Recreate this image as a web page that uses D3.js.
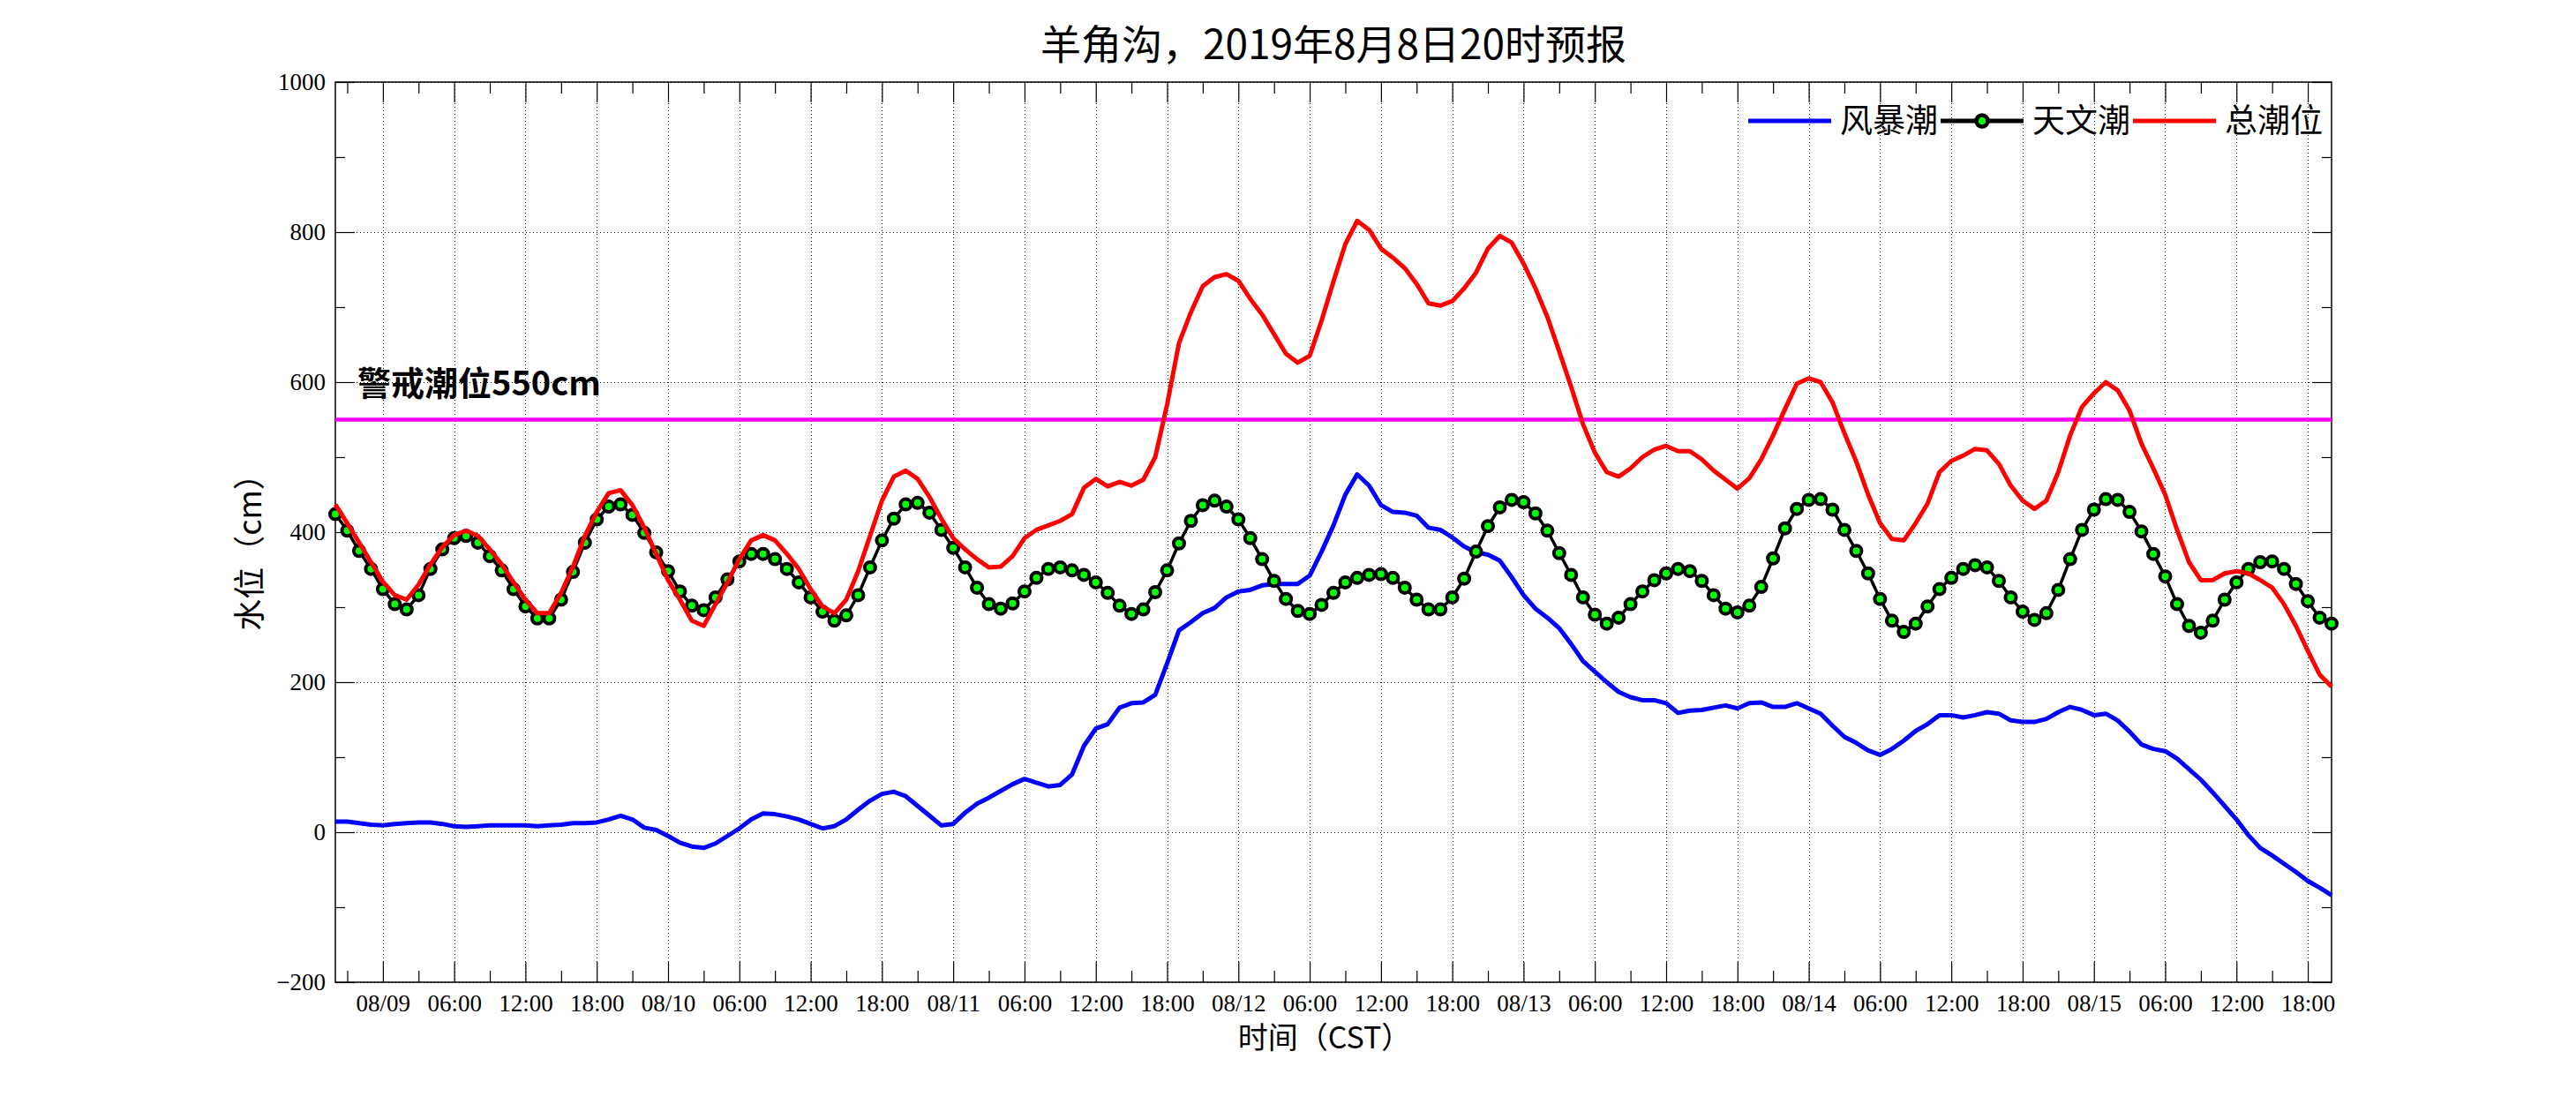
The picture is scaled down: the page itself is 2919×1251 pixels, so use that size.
<!DOCTYPE html>
<html><head><meta charset="utf-8">
<script src="https://cdn.jsdelivr.net/npm/d3@7"></script>
<style>body{margin:0;background:#fff}</style>
</head><body><svg id="chart" width="2919" height="1251"></svg>
<script>
// ---- data (hourly, starting 2019-08-08 20:00 CST) ----
const startTime = "2019-08-08T20:00:00Z";
const astro = [
424,402,375,351,324,304,297,316,351,377,392,395,
386,368,349,324,301,285,285,310,347,386,417,434,
437,423,399,373,348,321,302,296,313,337,361,371,
371,364,351,333,313,294,282,289,316,353,389,418,
437,439,426,403,379,353,326,304,298,305,321,339,
351,353,349,343,333,319,302,291,297,320,349,385,
415,436,442,434,417,392,364,335,311,295,291,303,
319,333,339,343,344,339,326,310,297,297,313,338,
374,408,433,443,440,425,402,372,343,313,290,278,
286,304,321,336,345,351,348,335,316,298,293,302,
327,365,405,431,443,444,430,403,375,345,311,282,
267,278,301,324,339,351,356,353,335,313,294,283,
292,323,364,403,430,444,443,427,401,371,341,304,
275,266,282,310,333,351,360,361,351,331,308,286,
278];
const surge = [
14,14,12,10,9,11,12,13,13,11,8,7,
8,9,9,9,9,8,9,10,12,12,13,17,
22,17,6,3,-5,-14,-19,-21,-15,-5,5,17,
25,24,21,17,11,5,8,17,30,42,51,54,
48,35,22,9,11,26,38,46,55,64,71,66,
61,63,77,115,138,144,166,172,173,183,225,269,
280,292,299,313,321,323,329,331,331,331,342,374,
409,450,477,462,436,427,426,422,406,403,393,381,
373,370,362,340,316,298,286,272,251,228,214,200,
187,180,176,176,172,159,162,163,166,169,165,172,
173,167,167,172,165,158,142,127,119,109,103,111,
122,135,144,156,156,153,156,160,158,149,147,147,
151,160,167,163,156,158,149,134,117,111,108,98,
84,70,53,35,17,-4,-21,-31,-42,-53,-65,-74,
-84];
const total = [
437,412,386,360,334,316,310,330,357,380,396,402,
395,377,357,333,310,292,292,319,354,395,427,452,
456,436,406,371,336,310,282,275,304,333,364,389,
396,389,371,351,324,301,292,310,348,395,442,474,
482,471,447,418,392,377,364,353,354,368,392,403,
409,415,424,459,471,461,467,462,470,500,570,652,
693,728,740,744,735,711,690,664,638,626,635,682,
734,784,815,803,778,766,752,731,705,702,708,725,
746,778,795,786,758,725,687,641,594,544,506,480,
474,485,500,510,515,508,508,497,482,470,458,472,
497,529,564,598,605,600,573,532,494,450,412,391,
389,412,438,480,495,502,511,509,491,462,442,431,
442,480,529,567,585,600,589,562,518,485,450,403,
360,336,336,345,348,345,336,326,304,275,242,210,
194];
const yTicks = [-200,0,200,400,600,800,1000];
const yMinorTicks = [-100,100,300,500,700,900];
const xTickLabels = [
"08/09","06:00","12:00","18:00","08/10","06:00","12:00","18:00",
"08/11","06:00","12:00","18:00","08/12","06:00","12:00","18:00",
"08/13","06:00","12:00","18:00","08/14","06:00","12:00","18:00",
"08/15","06:00","12:00","18:00"];
const seriesNames = ["风暴潮","天文潮","总潮位"];
const warnLevel = 550;
const warnText = "警戒潮位550cm";
const titleText = "羊角沟，2019年8月8日20时预报";
const xTitle = "时间（CST）";
const yTitle = "水位（cm）";

// ---- layout ----
const L = 380, R = 2642, T = 93, B = 1113;
const CJK = "'Noto Sans CJK SC','Noto Sans',sans-serif";
const SERIF = "'Liberation Serif','Times New Roman',serif";
const svg = d3.select("#chart");
svg.append("rect").attr("width",2919).attr("height",1251).attr("fill","#fff");

const t0 = new Date(startTime);
const t1 = d3.utcHour.offset(t0, astro.length - 1);
const times = astro.map((d,i) => d3.utcHour.offset(t0, i));
const x = d3.scaleUtc().domain([t0, t1]).range([L, R]);
const y = d3.scaleLinear().domain([-200, 1000]).range([B, T]);

const majorT = d3.utcHour.every(6).range(t0, t1);
const minorT = d3.utcHour.every(3).range(t0, t1).filter(d => d.getUTCHours() % 6 === 3);

// grid
const grid = svg.append("g").attr("stroke","#000").attr("stroke-width",1).attr("stroke-dasharray","1,3");
grid.selectAll(".h").data(yTicks).join("line")
  .attr("x1",L).attr("x2",R).attr("y1",d=>y(d)+0.5).attr("y2",d=>y(d)+0.5);
grid.selectAll(".v").data(majorT).join("line")
  .attr("x1",d=>Math.round(x(d))+0.5).attr("x2",d=>Math.round(x(d))+0.5).attr("y1",T).attr("y2",B);

function styleAxis(g){
  g.select(".domain").remove();
  g.attr("font-family", SERIF).attr("font-size", 27);
  g.selectAll(".tick line").attr("stroke","#000").attr("stroke-width",1.2);
}
// bottom
svg.append("g").attr("transform",`translate(0,${B})`)
  .call(d3.axisBottom(x).tickValues(majorT).tickSize(-23).tickPadding(14).tickFormat((d,i)=>xTickLabels[i]))
  .call(styleAxis);
svg.append("g").attr("transform",`translate(0,${B})`)
  .call(d3.axisBottom(x).tickValues(minorT).tickSize(-13).tickFormat(""))
  .call(styleAxis);
// top
svg.append("g").attr("transform",`translate(0,${T})`)
  .call(d3.axisTop(x).tickValues(majorT).tickSize(-23).tickFormat(""))
  .call(styleAxis);
svg.append("g").attr("transform",`translate(0,${T})`)
  .call(d3.axisTop(x).tickValues(minorT).tickSize(-13).tickFormat(""))
  .call(styleAxis);
// left
svg.append("g").attr("transform",`translate(${L},0)`)
  .call(d3.axisLeft(y).tickValues(yTicks).tickSize(-22).tickPadding(11).tickFormat(d3.format("d")))
  .call(styleAxis);
svg.append("g").attr("transform",`translate(${L},0)`)
  .call(d3.axisLeft(y).tickValues(yMinorTicks).tickSize(-11).tickFormat(""))
  .call(styleAxis);
// right
svg.append("g").attr("transform",`translate(${R},0)`)
  .call(d3.axisRight(y).tickValues(yTicks).tickSize(-22).tickFormat(""))
  .call(styleAxis);
svg.append("g").attr("transform",`translate(${R},0)`)
  .call(d3.axisRight(y).tickValues(yMinorTicks).tickSize(-11).tickFormat(""))
  .call(styleAxis);

// frame
svg.append("rect").attr("x",L).attr("y",T).attr("width",R-L).attr("height",B-T)
  .attr("fill","none").attr("stroke","#000").attr("stroke-width",1.5);

// warning line
svg.append("line").attr("x1",L).attr("x2",R).attr("y1",y(warnLevel)).attr("y2",y(warnLevel))
  .attr("stroke","#ff00ff").attr("stroke-width",4.5);
svg.append("text").attr("x",405).attr("y",448).attr("font-family",CJK).attr("font-weight","bold")
  .attr("font-size",38).attr("fill","#000").text(warnText);

// series
const line = d3.line().x((d,i)=>x(times[i])).y(d=>y(d));
svg.append("path").datum(surge).attr("d",line).attr("fill","none")
  .attr("stroke","#0000ff").attr("stroke-width",5).attr("stroke-linejoin","round");
svg.append("path").datum(astro).attr("d",line).attr("fill","none")
  .attr("stroke","#000").attr("stroke-width",3.5).attr("stroke-linejoin","round");
svg.append("g").selectAll("circle").data(astro).join("circle")
  .attr("cx",(d,i)=>x(times[i])).attr("cy",d=>y(d)).attr("r",6)
  .attr("fill","#00ff00").attr("stroke","#000").attr("stroke-width",4);
svg.append("path").datum(total).attr("d",line).attr("fill","none")
  .attr("stroke","#ff0000").attr("stroke-width",5).attr("stroke-linejoin","round");

// legend
const legColors = ["#0000ff","#000","#ff0000"];
let lx = 1981; const ly = 137;
const leg = svg.append("g");
seriesNames.forEach((name,i)=>{
  leg.append("line").attr("x1",lx).attr("x2",lx+94).attr("y1",ly).attr("y2",ly)
    .attr("stroke",legColors[i]).attr("stroke-width",5);
  if(i===1){
    leg.append("circle").attr("cx",lx+47).attr("cy",ly).attr("r",6.5)
      .attr("fill","#00ff00").attr("stroke","#000").attr("stroke-width",4.5);
  }
  const t = leg.append("text").attr("x",lx+104).attr("y",ly).attr("dy","0.36em")
    .attr("font-family",CJK).attr("font-size",37).attr("fill","#000").text(name);
  lx = lx + 104 + t.node().getComputedTextLength() + 3;
});

// titles
svg.append("text").attr("x",(L+R)/2).attr("y",67).attr("text-anchor","middle")
  .attr("font-family",CJK).attr("font-size",46).attr("fill","#000").text(titleText);
svg.append("text").attr("x",1501).attr("y",1188).attr("text-anchor","middle")
  .attr("font-family",CJK).attr("font-size",34).attr("fill","#000").text(xTitle);
svg.append("text").attr("transform","translate(283,617) rotate(-90)").attr("text-anchor","middle")
  .attr("dy","0.36em").attr("font-family",CJK).attr("font-size",36).attr("fill","#000").text(yTitle);
</script>
</body></html>
